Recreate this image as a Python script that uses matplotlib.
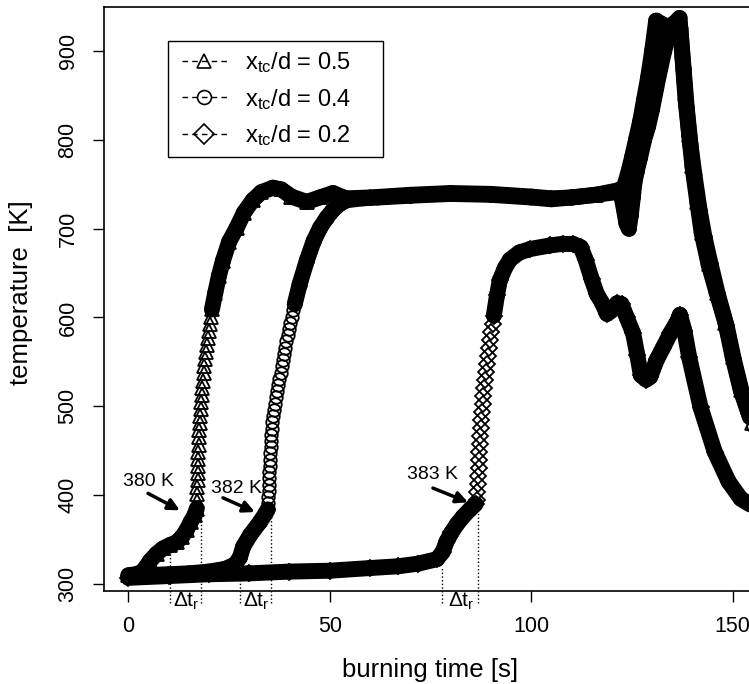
import numpy as np
import matplotlib
matplotlib.use("Agg")
from matplotlib import pyplot as plt
from matplotlib.collections import LineCollection
from matplotlib.lines import Line2D
from matplotlib.patches import Rectangle

plt.rcParams['font.family'] = ['Liberation Sans', 'DejaVu Sans']
plt.rcParams['mathtext.default'] = 'regular'

# x_tc/d = 0.5 (triangles)
t_a = [0, 2, 3.5, 4.5, 5.4, 7, 8.6, 10.4, 12, 13.3, 14.5, 15.5, 16.5, 17.0,
       17.05, 17.1, 17.15, 17.2, 17.25, 17.3, 17.35, 17.4, 17.45, 17.5, 17.6, 17.7, 17.8, 17.95,
       18.1, 18.25, 18.4, 18.55, 18.7, 18.85, 19.0, 19.25, 19.5, 19.75, 20.0, 20.25, 20.5, 20.75,
       21.6, 22.5, 23.5, 25.0, 26.9, 28.7, 30.9, 33.0, 35.9, 38.0, 40.5, 44.3, 47.5, 50.8,
       54, 60, 70, 80, 90, 100, 105, 110, 116, 121.5, 123.0, 124.2, 125, 126, 127, 128, 129,
       130, 131, 132.5, 134, 135.5, 136.8, 137.4, 138.3, 139.2, 140.0, 141.2, 142.3, 144.0,
       146.0, 148.2, 150.0, 152.0, 154.8, 157.5]
T_a = [310, 311, 314, 320, 326, 334, 340, 344, 347, 353, 361, 370, 378, 385,
       393, 401, 409, 417, 425, 433, 441, 449, 457, 465, 473, 481, 489, 497,
       505, 513, 521, 529, 537, 545, 553, 561, 569, 577, 585, 593, 601, 609,
       628, 647, 664, 685, 701, 718, 732, 741, 746, 744, 736, 730, 735, 740,
       734, 735, 738, 740, 739, 736, 734, 735, 738, 743, 746, 765, 780, 800, 820, 845, 870,
       900, 934, 930, 927, 931, 937, 900, 845, 805, 770, 730, 695, 660,
       628, 594, 555, 518, 481, 455]

# x_tc/d = 0.4 (circles)
t_b = [0, 5, 10, 15, 20, 24, 26.5, 27.7, 28.5, 30.2, 32.7, 34.0, 34.6,
       34.67, 34.74, 34.82, 34.89, 34.96, 35.03, 35.10, 35.17, 35.25, 35.32, 35.39, 35.52,
       35.65, 35.78, 35.96, 36.2, 36.43, 36.67, 36.9, 37.18, 37.48, 37.79, 38.1, 38.4,
       38.68, 38.96, 39.24, 39.52, 39.85, 40.2, 40.55, 40.9, 41.3,
       42.5, 44.3, 46.0, 47.6, 49.2, 50.8, 52.5, 54.3, 58, 62, 70, 80, 90, 100, 105, 110,
       116, 121, 122.3, 123, 123.6, 124.2, 124.7, 125.2, 125.6, 126.2, 127, 128, 129, 130,
       131, 132, 133, 134, 135, 136, 137, 137.8, 138.6, 139.5, 140.5, 141.8, 143, 144.5,
       146.3, 148.5, 150.3, 152.3, 155, 157.5]
T_b = [309, 310, 311, 312, 314, 317, 322, 330, 342, 355, 370, 379, 384,
       391, 398, 405, 412, 419, 426, 433, 440, 447, 454, 461, 468,
       475, 482, 489, 496, 503, 510, 517, 524, 531, 538, 545, 552,
       559, 566, 573, 580, 587, 594, 601, 608, 615,
       637, 664, 686, 701, 712, 721, 728, 732, 734, 735, 737, 739, 738, 735, 733, 735,
       738, 741, 738, 722, 706, 700, 715, 735, 752, 765, 780, 800, 815, 835,
       858, 880, 900, 918, 927, 932, 925, 880, 835, 795, 760, 720, 690, 660,
       626, 590, 552, 515, 478, 452]

# x_tc/d = 0.2 (diamonds)
t_c = [0, 10, 20, 30, 40, 50, 60, 67, 72, 76.6, 78, 79, 80.2, 81.5, 83.1, 84.8, 86.2,
       86.5, 86.61, 86.71, 86.82, 86.93, 87.03, 87.14, 87.25, 87.39, 87.51, 87.64, 87.77,
       87.9, 88.05, 88.29, 88.53, 88.76, 89.0, 89.24, 89.47, 89.77, 90.08, 90.39, 90.7,
       91.5, 92.2, 93.5, 94.7, 97, 99.7, 104.6, 108, 110.3, 112.3, 113.5, 115, 116.3,
       117.5, 118.8, 120, 121.3, 122.4, 123.7, 125.3, 126.3, 127.2, 128.5, 129.5, 131.2,
       132.7, 134.5, 136.4, 136.9, 138, 139.2, 142, 145.5, 149, 152, 154.5, 157.5]
T_c = [307, 309, 311, 312, 314, 315, 318, 320, 323, 328, 336, 348, 358, 367, 376, 384, 390,
       395, 404, 413, 422, 431, 440, 449, 458, 467, 476, 485, 494,
       503, 512, 521, 530, 539, 548, 557, 566, 575, 584, 593, 602,
       625, 642, 656, 665, 673, 677, 681, 683, 683, 679, 665, 643, 626,
       617, 604, 608, 616, 615, 600, 582, 558, 535, 530, 533, 553,
       566, 582, 597, 603, 585, 555, 499, 449, 415, 396, 389, 387]

# time windows where the single markers are visible instead of the solid band
open_a = (17.0, 20.75)
open_b = (34.6, 41.3)
open_c = (86.2, 90.7)

labels = ['0.5', '0.4', '0.2']
markers = ['^', 'o', 'D']
msizes = [10, 9, 8]

# delta t_r intervals: (start, end, T at start, T at end)
dt_r = [(10.4, 18.0, 335, 383), (27.7, 35.3, 324, 375), (77.8, 86.7, 319, 386)]
notes = ['380 K', '382 K', '383 K']
note_xy = [(4.9, 415), (26.8, 408), (75.6, 423)]
arrow_tail = [(4.9, 402), (23.5, 397), (75.6, 408)]
arrow_head = [(12.8, 383), (31.4, 381), (84.3, 392)]


fig = plt.figure(figsize=(7.49, 6.84), dpi=100)
ax = fig.add_axes([0.1382, 0.1364, 0.8939, 0.8529])
ax.set_xlim(-6.15, 160)
ax.set_ylim(292.5, 949)

series = [(t_a, T_a, open_a), (t_b, T_b, open_b), (t_c, T_c, open_c)]
for (t, T, win), mk, ms in zip(series, markers, msizes):
    t = np.array(t, float)
    T = np.array(T, float)
    pts = np.column_stack([t, T])
    segs = np.stack([pts[:-1], pts[1:]], axis=1)
    solid = (t[1:] <= win[0]) | (t[:-1] >= win[1])
    lc = LineCollection(segs[solid], colors='k', linewidths=11.5,
                        capstyle='round', joinstyle='round')
    ax.add_collection(lc)
    ax.plot(t, T, ls='none', marker=mk, ms=ms, mfc='none', mec='k', mew=1.3)

for t0, t1, T0, T1 in dt_r:
    ax.plot([t0, t0], [279, T0], ls=':', color='k', lw=1, clip_on=False)
    ax.plot([t1, t1], [279, T1], ls=':', color='k', lw=1, clip_on=False)
    ax.text((t0 + t1) / 2 + 0.3, 281, r'$\Delta t_r$', fontsize=15, ha='center', va='center',
            clip_on=False)

for s, xy, tail, head in zip(notes, note_xy, arrow_tail, arrow_head):
    ax.text(xy[0], xy[1], s, fontsize=14, ha='center', va='center')
    ax.annotate('', xy=head, xytext=tail,
                arrowprops=dict(arrowstyle='-|>', color='k', lw=2.5, mutation_scale=17,
                                shrinkA=0, shrinkB=0))

ax.set_xticks([0, 50, 100, 150])
ax.set_yticks([300, 400, 500, 600, 700, 800, 900])
ax.tick_params(direction='out', length=8, width=1, labelsize=15.5, pad=10)
for lab in ax.get_yticklabels():
    lab.set_rotation(90)
    lab.set_va('center')
for sp in ax.spines.values():
    sp.set_linewidth(1.2)

ax.set_xlabel('burning time [s]', fontsize=18.5)
ax.xaxis.set_label_coords(0.487, -0.115)
ax.set_ylabel('temperature  [K]', fontsize=18.5)
ax.yaxis.set_label_coords(-0.105, 0.511)

# legend: entries without frame, box drawn on its own
handles = [Line2D([], [], color='k', lw=1, ls=(0, (4, 3)), marker=mk, ms=10,
                  mfc='none', mec='k', mew=1.2) for mk in markers]
texts = [r'x$_{tc}$/d = ' + v for v in labels]
leg = ax.legend(handles, texts, loc='upper left', bbox_to_anchor=(182 / 749, 1 - 50 / 684),
                bbox_transform=fig.transFigure, fontsize=17, frameon=False,
                borderpad=0, handlelength=1.9, handletextpad=0.75,
                labelspacing=0.5, borderaxespad=0)
fig.patches.append(Rectangle((168 / 749, 1 - 157 / 684), 215 / 749, 116 / 684,
                             transform=fig.transFigure, fill=False, edgecolor='k', lw=1))

fig.savefig('out.png', dpi=100)
